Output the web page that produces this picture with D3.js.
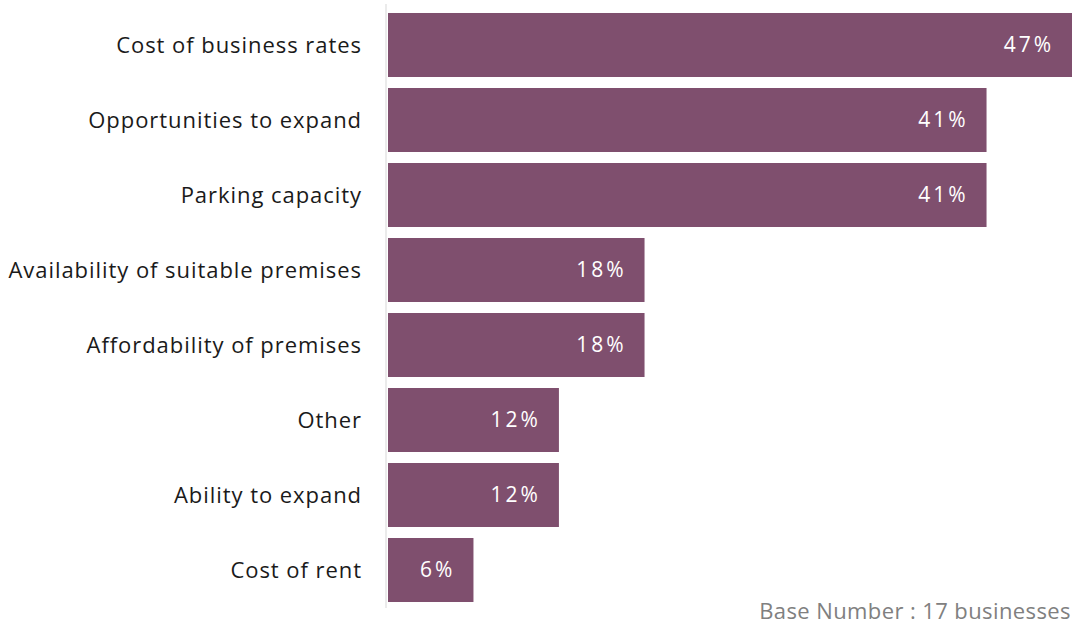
<!DOCTYPE html>
<html><head><meta charset="utf-8">
<script src="https://cdn.jsdelivr.net/npm/d3@7"></script>
<style>body{margin:0;background:#fff}svg{display:block}</style>
</head><body>
<svg id="c" width="1074" height="633"></svg>
<script>
const categories = ["Cost of business rates","Opportunities to expand","Parking capacity","Availability of suitable premises","Affordability of premises","Other","Ability to expand","Cost of rent"];
const values = [47.06, 41.18, 41.18, 17.65, 17.65, 11.76, 11.76, 5.88];
const valueLabels = ["47%","41%","41%","18%","18%","12%","12%","6%"];
const note = "Base Number : 17 businesses";

const svg = d3.select("#c");
const font = "'Open Sans', sans-serif";
const x = d3.scaleLinear().domain([0, 47.06]).range([388, 1072]);
const y = d3.scaleBand().domain(categories).range([7.5, 607.5]).paddingInner(0.1467).paddingOuter(0.0733);

svg.append("line").attr("x1",386).attr("x2",386).attr("y1",4).attr("y2",608)
  .attr("stroke","#e4e4e4").attr("stroke-width",1.5);

svg.selectAll("rect.bar").data(categories).join("rect").attr("class","bar")
  .attr("x", x(0)).attr("y", d=>y(d)).attr("height", y.bandwidth())
  .attr("width", (d,i)=>x(values[i])-x(0)).attr("fill","#7f4f6e");

svg.selectAll("text.cat").data(categories).join("text").attr("class","cat")
  .attr("x",362).attr("y",d=>y(d)+y.bandwidth()/2).attr("dy","0.35em")
  .attr("text-anchor","end").attr("font-family",font).attr("font-size",22)
  .attr("letter-spacing",0.95)
  .attr("fill","#1a1a1a").text(d=>d);

svg.selectAll("text.val").data(categories).join("text").attr("class","val")
  .attr("x",(d,i)=>x(values[i])-18).attr("y",d=>y(d)+y.bandwidth()/2).attr("dy","0.35em")
  .attr("text-anchor","end").attr("font-family",font).attr("font-size",21)
  .attr("letter-spacing",3)
  .attr("fill","#ffffff").text((d,i)=>valueLabels[i]);

svg.append("text").attr("x",1071).attr("y",619).attr("text-anchor","end")
  .attr("font-family",font).attr("font-size",22).attr("letter-spacing",0.4)
  .attr("fill","#808080").text(note);
</script>
</body></html>
